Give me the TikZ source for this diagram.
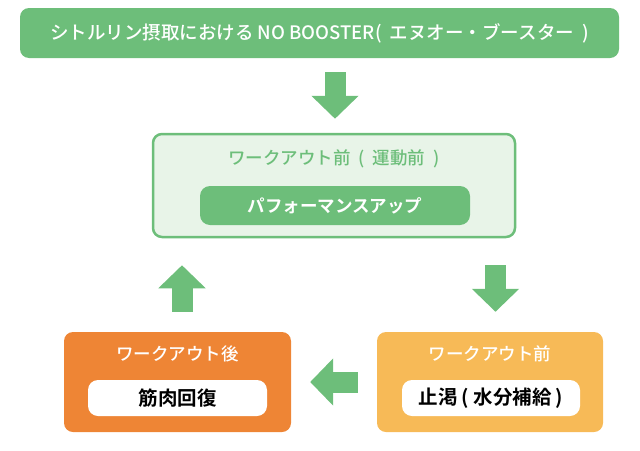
\documentclass[tikz,border=0pt]{standalone}
\usepackage{fontspec}
\setmainfont{Noto Sans CJK JP}[UprightFont=* Medium, BoldFont=* Bold]
\usetikzlibrary{arrows.meta}
\definecolor{leafgreen}{HTML}{6DBE7A}
\definecolor{palegreen}{HTML}{E8F4E8}
\definecolor{carrot}{HTML}{EE8535}
\definecolor{mustard}{HTML}{F7BA57}
\newcommand{\gap}{\hspace{.45em}}
\newcommand{\narrowgap}{\hspace{.22em}}

\begin{document}
\begin{tikzpicture}[x=1pt, y=-1pt,
		panel/.style={rounded corners=9pt, inner sep=0pt},
		pill/.style={rounded corners=10pt, inner sep=0pt, font=\fontsize{19.5}{19.5}\selectfont\bfseries},
		heading/.style={inner sep=0pt, font=\fontsize{17.5}{17.5}\selectfont},
		fat/.style={leafgreen, line width=21pt, -{Triangle[length=23pt, width=46pt]}}]
		\useasboundingbox (0,0) rectangle (640,450);

		\node (booster)[panel, fill=leafgreen, minimum width=599pt, minimum height=50pt, text=white, font=\fontsize{18.5}{18.5}\selectfont] at (319.5,33) {シトルリン摂取における NO BOOSTER(\gap エヌオー・ブースター\gap)};

		\node (before)[panel, draw=leafgreen, line width=2.5pt, fill=palegreen, minimum width=362pt, minimum height=103pt] at (334,185.5) {};
		\node (beforetitle)[heading, text=leafgreen] at (334,159) {ワークアウト前\gap(\gap 運動前\gap)};
		\node (perform)[pill, fill=leafgreen, text=white, minimum width=270pt, minimum height=39pt, font=\fontsize{17.5}{17.5}\selectfont\bfseries] at (335,205.5) {パフォーマンスアップ};

		\node (after)[panel, fill=carrot, minimum width=227pt, minimum height=100pt] at (177.5,382) {};
		\node (aftertitle)[heading, text=white] at (177.5,354) {ワークアウト後};
		\node (muscle)[pill, fill=white, minimum width=179pt, minimum height=36pt] at (177.5,398) {筋肉回復};

		\node (pre)[panel, fill=mustard, minimum width=226pt, minimum height=100pt] at (490,382) {};
		\node (pretitle)[heading, text=white] at (490,354) {ワークアウト前};
		\node (thirst)[pill, fill=white, minimum width=178pt, minimum height=36pt] at (491,398) {止渇\narrowgap(\narrowgap 水分補給\narrowgap)};

		\draw [fat, shorten <=14pt, shorten >=14pt]([xshift=15.5pt]booster.south)--([xshift=1pt]before.north);
		\draw [fat, shorten <=27pt, shorten >=20pt]([xshift=5.5pt]pre.north |- before.south)--([xshift=5.5pt]pre.north);
		\draw [fat, shorten <=19pt, shorten >=19pt](pre.west)--(after.east);
		\draw [fat, shorten <=20pt, shorten >=27pt]([xshift=4.5pt]after.north)--([xshift=4.5pt]after.north |- before.south);
	\end{tikzpicture}
\end{document}
